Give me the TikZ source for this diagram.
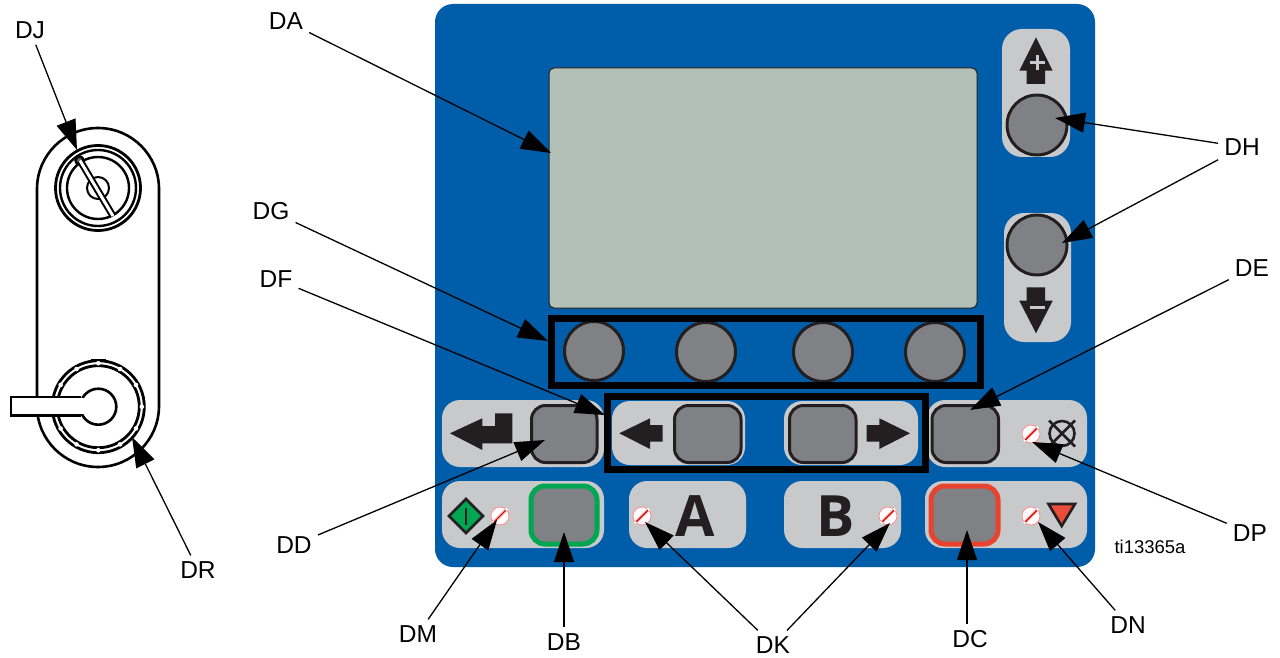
\documentclass[tikz,border=0pt]{standalone}
\usepackage{fontspec}
\setmainfont{Liberation Sans}
\newfontfamily\padfont[Scale=1]{Open Sans}
\usetikzlibrary{arrows.meta}
\definecolor{panelblue}{HTML}{005DAA}
\definecolor{screenc}{HTML}{B3C0B8}
\definecolor{padc}{HTML}{C8C9CB}
\definecolor{btnc}{HTML}{808184}
\definecolor{inkc}{HTML}{231F20}
\definecolor{greenc}{HTML}{00A651}
\definecolor{redc}{HTML}{E8432E}
\tikzset{
  lbl/.style={font=\fontsize{24.5}{28}\selectfont,inner sep=6pt,text=black},
  callout/.style={draw=black,line width=1.3pt,-{Triangle[length=30pt,width=20pt]}},
  pad/.style={fill=padc,rounded corners=18pt},
  btn/.style={fill=btnc,draw=inkc,line width=3pt,rounded corners=14pt},
  rbtn/.style={fill=btnc,draw=inkc,line width=3pt},
  frame/.style={draw=black,line width=7pt},
  glyph/.style={fill=inkc},
  dev/.style={draw=black,fill=white,line width=2.6pt},
  ring/.style={draw=black,line width=2.4pt},
  led/.pic={
    \fill[white] (0,0) circle[radius=9];
    \draw[red!45,line width=.8pt] (0,0) circle[radius=9];
    \draw[red!45,line width=3.4pt] (-6.3,6.3) -- (6.3,-6.3) ;
    \draw[white,line width=2.6pt] (-7,7) -- (7,-7);
    \draw[red!85!black,line width=1.4pt] (-5.8,5.8) -- (5.8,-5.8);
  }
}
\begin{document}
\begin{tikzpicture}[x=1pt,y=-1pt]
\useasboundingbox (0,0) rectangle (1280,658);
\fill[white] (0,0) rectangle (1280,658);

% left device
\draw[dev] (37,189) arc[start angle=180,end angle=360,x radius=61,y radius=61]
  -- (159,406) arc[start angle=0,end angle=180,x radius=61,y radius=61] -- cycle;
\draw[ring,line width=2.8pt] (98,188) circle[radius=42.5];
\draw[ring] (98,188) circle[radius=38];
\draw[ring] (98,188) circle[radius=31];
\draw[ring,line width=2pt] (98,188) circle[radius=11];
\draw[ring,fill=black!60] (79.5,160.5) circle[radius=4];
\draw[black,line width=7pt] (80,160.5) -- (113,216);
\draw[white,line width=3pt] (80,160.5) -- (113,216);
\fill[white] (98.3,406.7) circle[radius=46];
\draw[ring,line width=2.8pt] (98.3,406.7) circle[radius=46];
\draw[ring,line width=2.8pt] (98.3,406.7) circle[radius=41];
\foreach \a in {0,30,...,330}{
  \fill[white] (98.3,406.7) ++(\a:43.5) circle[radius=2.3];
}
\draw[ring,line width=2pt] (91,360) -- (106,360);
\fill[white] (11,397) rectangle (84,415.5);
\draw[dev] (81,397) -- (11,397) -- (11,415.5) -- (81,415.5);
\draw[dev] (98.3,406.7) circle[radius=18];
\fill[white] (79,398.3) rectangle (84,414.2);

% panel
\fill[panelblue,rounded corners=18pt] (435,4) rectangle (1095,567);
\draw[fill=screenc,draw=inkc,line width=1pt,rounded corners=5pt] (549,68) rectangle (977,308);

% up/down pads
\fill[padc,rounded corners=20pt] (1002,29) rectangle (1070,157);
\fill[padc,rounded corners=20pt] (1004,213) rectangle (1071,342);
\fill[glyph] (1036,37.3) -- (1052.7,70.7) -- (1045,70.7) -- (1045,84) -- (1026.7,84) -- (1026.7,70.7) -- (1019.3,70.7) -- cycle;
\draw[padc,line width=3pt] (1029.5,62.7) -- (1044.5,62.7) (1037,55.5) -- (1037,70);
\fill[glyph] (1036,333.3) -- (1052.7,300.7) -- (1045,300.7) -- (1045,287.3) -- (1026.7,287.3) -- (1026.7,300.7) -- (1019.3,300.7) -- cycle;
\draw[padc,line width=3pt] (1029.5,307.7) -- (1044.5,307.7);
\fill[padc!70!white] (1037,125) circle[radius=32];
\fill[padc!70!white] (1037,245) circle[radius=32];
\draw[rbtn] (1037,125) circle[radius=30];
\draw[rbtn] (1037,245) circle[radius=30];

% softkeys
\draw[rbtn] (594,351) circle[radius=29.5];
\draw[rbtn] (706,352) circle[radius=29.5];
\draw[rbtn] (823,352) circle[radius=29.5];
\draw[rbtn] (935,352) circle[radius=29.5];

% row 1
\fill[pad] (442,400) rectangle (604,467);
\fill[pad] (612,401) rectangle (745,465);
\fill[pad] (784,401) rectangle (918,465);
\fill[pad] (927,400) rectangle (1087,467);
\draw[btn] (531.5,405.5) rectangle (597,462.5);
\draw[btn] (674.5,405.5) rectangle (741,462.5);
\draw[btn] (789.5,405.5) rectangle (856,462.5);
\draw[btn] (932,405.5) rectangle (998.5,462.5);
\fill[glyph] (450,433.3) -- (482.3,418.3) -- (482.3,426) -- (495,426) -- (495,413.3) -- (512.3,413.3) -- (512.3,443.3) -- (482.3,443.3) -- (482.3,450) -- cycle;
\fill[glyph] (619.3,433.3) -- (650,418.3) -- (650,425) -- (662.7,425) -- (662.7,441.7) -- (650,441.7) -- (650,449) -- cycle;
\fill[glyph] (910,433.3) -- (879.3,418.3) -- (879.3,425) -- (866.7,425) -- (866.7,441.7) -- (879.3,441.7) -- (879.3,449) -- cycle;

% row 2
\fill[pad] (442,481) rectangle (604,548);
\fill[pad] (629,481) rectangle (746,548);
\fill[pad] (784,481) rectangle (901,548);
\fill[pad] (925,481) rectangle (1087,548);
\draw[fill=btnc,draw=greenc,line width=5pt,rounded corners=14pt] (531,486) rectangle (597,544);
\draw[fill=btnc,draw=redc,line width=5pt,rounded corners=14pt] (931,486) rectangle (998,544);
\draw[fill=greenc,draw=inkc,line width=2.6pt,line join=miter] (466,499) -- (483,516) -- (466,533) -- (449,516) -- cycle;
\draw[inkc,line width=2.6pt] (466,508) -- (466,525);
\node[inner sep=0pt,text=inkc,font=\padfont\bfseries\fontsize{57}{57}\selectfont] (letterA) at (695,516.5) {A};
\node[inner sep=0pt,text=inkc,font=\padfont\bfseries\fontsize{57}{57}\selectfont] (letterB) at (836,516.5) {B};
\draw[inkc,line width=2.6pt] (1062,433.5) circle[radius=12.5];
\draw[inkc,line width=2.6pt] (1053.2,424.7) -- (1070.8,442.3) (1053.2,442.3) -- (1070.8,424.7)
  (1049,420.5) -- (1053.2,424.7) (1075,420.5) -- (1070.8,424.7) (1049,446.5) -- (1053.2,442.3) (1075,446.5) -- (1070.8,442.3);
\draw[fill=redc!95!white,draw=inkc,line width=2.6pt,line join=miter] (1048.5,504) -- (1075,504) -- (1061.7,526) -- cycle;
\foreach \p in {(500,516),(642,516),(888,516),(1031,516),(1031,434)}{ \pic at \p {led}; }

% frames
\draw[frame] (551,318.5) rectangle (980,385);
\draw[frame] (607,396) rectangle (925,469);

% label nodes
\node[font=\fontsize{18.5}{22}\selectfont,inner sep=0pt] (tiref) at (1150,547) {ti13365a};
\node[lbl] (DJ) at (30,30) {DJ};
\node[lbl] (DA) at (286,21) {DA};
\node[lbl] (DG) at (271,211) {DG};
\node[lbl] (DF) at (276,279) {DF};
\node[lbl] (DE) at (1252,268) {DE};
\node[lbl] (DH) at (1242,147) {DH};
\node[lbl] (DP) at (1250,533) {DP};
\node[lbl] (DD) at (294,545) {DD};
\node[lbl] (DM) at (418,634) {DM};
\node[lbl] (DB) at (564,642) {DB};
\node[lbl] (DK) at (773,645) {DK};
\node[lbl] (DC) at (970,639) {DC};
\node[lbl] (DN) at (1128,625) {DN};
\node[lbl] (DR) at (198,570) {DR};

% targets
\coordinate (tJ) at (77,150);
\coordinate (tA) at (551,153);
\coordinate (tG) at (548,341);
\coordinate (tF) at (605,415);
\coordinate (tE) at (970,410);
\coordinate (tHa) at (1055,118);
\coordinate (tHb) at (1062,243);
\coordinate (tP) at (1032,442);
\coordinate (tD) at (545,440);
\coordinate (tM) at (497,520);
\coordinate (tB) at (564,532);
\coordinate (tKa) at (645,522);
\coordinate (tKb) at (890,523);
\coordinate (tC) at (967,530);
\coordinate (tN) at (1038,522);
\coordinate (tR) at (132,437);

\draw[callout] (DJ) -- (tJ);
\draw[callout] (DA) -- (tA);
\draw[callout] (DG) -- (tG);
\draw[callout] (DF) -- (tF);
\draw[callout] (DE) -- (tE);
\draw[callout] (DH) -- (tHa);
\draw[callout] (DH) -- (tHb);
\draw[callout] (DP) -- (tP);
\draw[callout] (DD) -- (tD);
\draw[callout] (DM) -- (tM);
\draw[callout] (DB) -- (tB);
\draw[callout] (DK) -- (tKa);
\draw[callout] (DK) -- (tKb);
\draw[callout] (DC.north -| tC) -- (tC);
\draw[callout] (DN) -- (tN);
\draw[callout] (DR) -- (tR);
\end{tikzpicture}
\end{document}
